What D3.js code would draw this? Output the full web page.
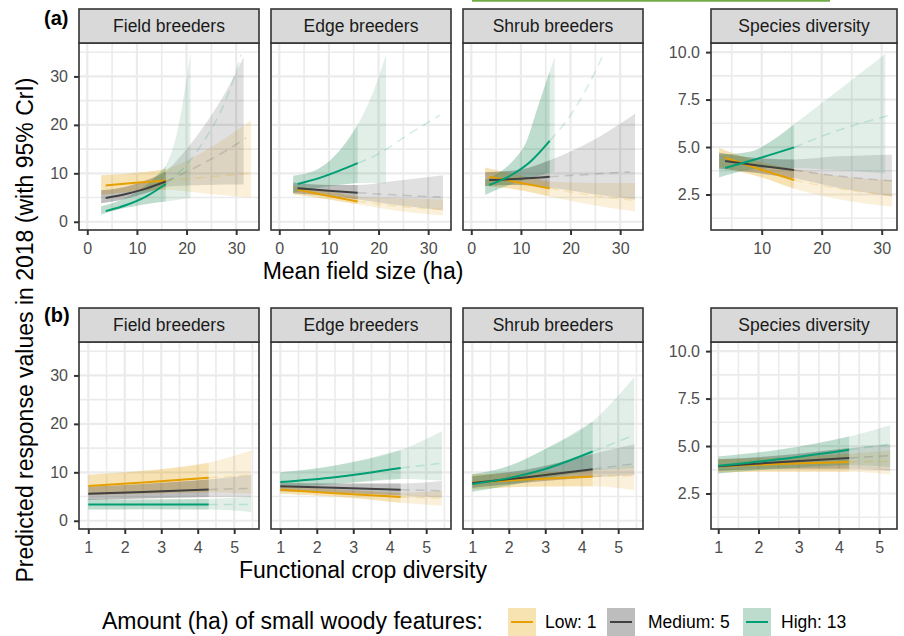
<!DOCTYPE html>
<html>
<head>
<meta charset="utf-8">
<script src="https://cdn.jsdelivr.net/npm/d3@7"></script>
<style>
  body { margin: 0; background: #fff; }
  svg text { font-family: "Liberation Sans", Arial, Helvetica, sans-serif; }
</style>
</head>
<body>
<div id="vis"></div>
<script>
// legend groups + facets
const groups = ['Low: 1', 'Medium: 5', 'High: 13'];
const facets = ['Field breeders', 'Edge breeders', 'Shrub breeders', 'Species diversity'];
const colours = ['#E69F00', '#404040', '#009E73'];
const fills = ['#E69F00', '#262626', '#288C5A'];

// ticks / domains
const ticksFieldSize = [0, 10, 20, 30];
const ticksFieldSizeSp = [10, 20, 30];
const ticksCropDiv = [1, 2, 3, 4, 5];
const ticksCount = [0, 10, 20, 30];
const ticksDiversity = [2.5, 5, 7.5, 10];
const xDomainA = [-1.67, 34.6];
const xDomainASp = [1.55, 32.55];
const xDomainB = [0.745, 5.68];
const xDomainBSp = [0.82, 5.44];
const yDomainCount = [-1.7, 36.9];
const yDomainDiv = [0.63, 10.48];

// where the observed range ends (solid -> dashed)
const obsEndA = [15.8, 15.8, 15.8, 15.4];
const obsEndB = [4.3, 4.3, 4.3, 4.25];

// (a) mean field size: [x, mean] per group (low, medium, high)
const aFieldMean = [
  [[3.7, 7.5], [8, 7.9], [12, 8.2], [15.8, 8.5], [24, 9.2], [33, 10.0]],
  [[3.7, 4.9], [8, 5.8], [12, 6.9], [15.8, 8.3], [20, 10.3], [24, 12.4], [28, 14.7], [32, 17.3]],
  [[3.7, 2.2], [8, 3.5], [12, 5.3], [15.8, 7.8], [20, 11.8], [24, 17.5], [27, 23], [29.5, 29.5], [31, 34.5]]
];
// [x, lower, upper]
const aFieldBand = [
  [[2.8, 5.6, 9.6], [8, 6.1, 9.9], [12, 6.4, 10.3], [15.8, 6.6, 10.9], [24, 5.8, 14.8], [33, 5.0, 21.0]],
  [[2.8, 3.8, 6.5], [8, 4.8, 7.3], [12, 6.0, 8.6], [15.8, 7.2, 10.4], [20, 7.5, 15], [24, 7.6, 20.5], [28, 7.7, 27], [31.5, 7.7, 34]],
  [[2.8, 1.5, 3.2], [6, 2.5, 4.2], [10, 3.3, 6.2], [14, 4.0, 9.5], [15.8, 4.2, 11.5], [18, 4.5, 18], [20.8, 4.9, 35]]
];
const aEdgeMean = [
  [[3.7, 6.6], [10, 5.3], [15.8, 4.2], [24, 3.2], [33, 2.5]],
  [[3.7, 6.9], [10, 6.4], [15.8, 6.0], [24, 5.5], [32.5, 5.1]],
  [[3.7, 7.8], [8, 9.0], [12, 10.5], [15.8, 12.1], [20, 14.0], [26, 18.0], [32.4, 22.0]]
];
const aEdgeBand = [
  [[2.8, 5.7, 7.4], [10, 4.6, 6.3], [15.8, 3.6, 5.2], [24, 2.2, 4.8], [33, 1.3, 4.6]],
  [[2.8, 5.9, 8.1], [10, 5.3, 7.6], [15.8, 4.6, 7.6], [24, 3.4, 8.5], [33, 2.4, 9.6]],
  [[2.8, 6.0, 9.5], [8, 7.0, 11.0], [12, 7.6, 14.5], [15.8, 8.0, 20.0], [19, 8.0, 27], [21.5, 7.9, 34.5]]
];
const aShrubMean = [
  [[3.6, 9.3], [10, 8.0], [15.8, 6.9], [24, 5.5], [33, 4.4]],
  [[3.6, 8.6], [10, 8.9], [15.8, 9.3], [24, 9.8], [32, 10.3]],
  [[3.6, 7.6], [8, 9.6], [12, 12.5], [15.8, 16.7], [20, 22], [24, 29], [26.8, 35]]
];
const aShrubBand = [
  [[2.8, 7.4, 11.2], [10, 6.5, 9.5], [15.8, 5.2, 8.3], [24, 3.5, 8.0], [33, 2.1, 8.0]],
  [[2.8, 7.4, 10.2], [10, 7.6, 10.8], [15.8, 7.0, 12.7], [24, 5.8, 16.5], [33, 4.6, 22.3]],
  [[2.8, 5.5, 8.6], [5.8, 6.9, 10.3], [8.5, 7.9, 12.7], [11.2, 8.8, 16.8], [13.2, 9.4, 23], [15.8, 10.1, 31], [16.8, 10.3, 34]]
];
const aSpeciesMean = [
  [[3.9, 4.44], [10, 3.8], [15.4, 3.26], [22, 2.85], [31.7, 2.45]],
  [[3.9, 4.26], [10, 4.0], [15.4, 3.79], [22, 3.5], [31.7, 3.22]],
  [[3.9, 3.9], [10, 4.45], [15.4, 4.98], [22, 5.8], [31.7, 6.7]]
];
const aSpeciesBand = [
  [[2.9, 3.95, 4.95], [10, 3.4, 4.2], [15.4, 2.8, 3.85], [22, 2.3, 3.5], [31.7, 1.85, 3.25]],
  [[2.9, 3.85, 4.7], [10, 3.6, 4.4], [15.4, 3.35, 4.35], [22, 2.9, 4.5], [31.7, 2.4, 4.6]],
  [[2.9, 3.4, 4.6], [8, 3.8, 4.75], [12, 3.9, 5.4], [15.4, 3.9, 6.2], [22, 3.8, 7.8], [30.6, 3.6, 9.9]]
];

// (b) functional crop diversity
const bFieldMean = [
  [[1, 7.2], [2.5, 7.9], [4.3, 8.9], [5.47, 9.5]],
  [[1, 5.57], [2.5, 5.95], [4.3, 6.46], [5.47, 6.7]],
  [[1, 3.37], [2.5, 3.38], [4.3, 3.37], [5.47, 3.35]]
];
const bFieldBand = [
  [[1, 5.3, 9.5], [2.5, 5.6, 10.3], [4.3, 5.9, 12.0], [5.47, 5.6, 14.5]],
  [[1, 4.3, 7.0], [2.5, 4.6, 7.6], [4.3, 4.9, 8.5], [5.47, 4.9, 9.5]],
  [[1, 2.3, 4.45], [2.5, 2.4, 4.4], [4.3, 2.3, 4.5], [5.47, 1.8, 5.0]]
];
const bEdgeMean = [
  [[1, 6.4], [2.5, 5.7], [4.3, 4.9], [5.43, 4.6]],
  [[1, 7.1], [2.5, 6.8], [4.3, 6.4], [5.43, 6.2]],
  [[1, 8.0], [2.5, 9.0], [4.3, 10.9], [5.43, 11.9]]
];
const bEdgeBand = [
  [[1, 5.6, 7.1], [2.5, 5.0, 6.5], [4.3, 3.7, 5.8], [5.43, 3.1, 6.2]],
  [[1, 6.1, 7.9], [2.5, 5.8, 7.7], [4.3, 5.2, 7.7], [5.43, 4.8, 8.2]],
  [[1, 6.8, 10.0], [2.5, 7.6, 11.4], [4.3, 8.6, 14.6], [5.43, 8.3, 18.5]]
];
const bShrubMean = [
  [[1, 7.9], [2.5, 8.5], [4.3, 9.15], [5.44, 9.3]],
  [[1, 7.8], [2.5, 9.0], [4.3, 10.65], [5.44, 11.75]],
  [[1, 7.6], [2, 8.8], [3, 10.7], [4.3, 14.3], [5.44, 17.7]]
];
const bShrubBand = [
  [[1, 6.5, 9.6], [2.5, 7.0, 9.9], [4.3, 7.1, 10.5], [5.44, 6.3, 11.3]],
  [[1, 6.8, 9.2], [2.5, 7.9, 10.6], [4.3, 9.0, 13.8], [5.44, 9.4, 15.8]],
  [[1, 6.0, 9.6], [2, 7.3, 11.3], [3, 8.8, 14.8], [4.3, 10.3, 20.5], [5.44, 11.0, 29.6]]
];
const bSpeciesMean = [
  [[1, 3.93], [2.5, 4.05], [4.25, 4.16], [5.27, 4.2]],
  [[1, 3.93], [2.5, 4.15], [4.25, 4.37], [5.27, 4.5]],
  [[1, 3.96], [2.5, 4.3], [4.25, 4.81], [5.27, 5.1]]
];
const bSpeciesBand = [
  [[1, 3.6, 4.3], [2.5, 3.65, 4.4], [4.25, 3.65, 4.6], [5.27, 3.5, 4.75]],
  [[1, 3.7, 4.3], [2.5, 3.8, 4.5], [4.25, 3.8, 4.9], [5.27, 3.7, 5.1]],
  [[1, 3.55, 4.45], [2.5, 3.8, 4.8], [4.25, 4.0, 5.5], [5.27, 3.9, 6.1]]
];

// layout
const W = 904, H = 636;
const panelLeft = [79, 271, 463, 711];
const panelWidth = [180, 180, 180, 186];
const stripH = 34, panelH = 187;

const rows = [
  {tag: '(a)', top: 9, tagY: 25, title: 'Mean field size (ha)', titleY: 279,
   mean: [aFieldMean, aEdgeMean, aShrubMean, aSpeciesMean],
   band: [aFieldBand, aEdgeBand, aShrubBand, aSpeciesBand],
   end: obsEndA,
   xDom: [xDomainA, xDomainA, xDomainA, xDomainASp],
   xTicks: [ticksFieldSize, ticksFieldSize, ticksFieldSize, ticksFieldSizeSp]},
  {tag: '(b)', top: 308, tagY: 322, title: 'Functional crop diversity', titleY: 578,
   mean: [bFieldMean, bEdgeMean, bShrubMean, bSpeciesMean],
   band: [bFieldBand, bEdgeBand, bShrubBand, bSpeciesBand],
   end: obsEndB,
   xDom: [xDomainB, xDomainB, xDomainB, xDomainBSp],
   xTicks: [ticksCropDiv, ticksCropDiv, ticksCropDiv, ticksCropDiv]}
];

const svg = d3.select('#vis')
  .append('svg')
  .attr('width', W)
  .attr('height', H);

// stray green rule at the very top of the source image
svg.append('line')
  .attr('x1', 472).attr('x2', 830)
  .attr('y1', 0.8).attr('y2', 0.8)
  .attr('stroke', '#70AD47').attr('stroke-width', 2);

function minorBreaks(ticks, dom) {
  const step = ticks[1] - ticks[0];
  const out = [];
  for (let v = ticks[0] - step / 2; v <= dom[1]; v += step) {
    if (v >= dom[0]) out.push(v);
  }
  return out;
}

function styleAxis(g) {
  g.select('.domain').remove();
  g.selectAll('.tick line').attr('stroke', '#333333').attr('stroke-width', 2);
  g.selectAll('.tick text').attr('fill', '#4D4D4D').style('font-size', '16px');
}

let clipId = 0;

rows.forEach(row => {
  const top = row.top + stripH;

  facets.forEach((facet, i) => {
    const left = panelLeft[i], w = panelWidth[i];
    const xDom = row.xDom[i];
    const yDom = i === 3 ? yDomainDiv : yDomainCount;
    const yTicks = i === 3 ? ticksDiversity : ticksCount;

    const x = d3.scaleLinear().domain(xDom).range([left, left + w]);
    const y = d3.scaleLinear().domain(yDom).range([top + panelH, top]);

    const g = svg.append('g');
    g.append('rect')
      .attr('x', left).attr('y', top)
      .attr('width', w).attr('height', panelH)
      .attr('fill', '#fff');

    // grid
    const grid = g.append('g').attr('stroke', '#EBEBEB');
    minorBreaks(row.xTicks[i], xDom).forEach(v => {
      grid.append('line').attr('x1', x(v)).attr('x2', x(v))
        .attr('y1', top).attr('y2', top + panelH).attr('stroke-width', 1.6);
    });
    minorBreaks(yTicks, yDom).forEach(v => {
      grid.append('line').attr('y1', y(v)).attr('y2', y(v))
        .attr('x1', left).attr('x2', left + w).attr('stroke-width', 1.6);
    });
    row.xTicks[i].forEach(v => {
      grid.append('line').attr('x1', x(v)).attr('x2', x(v))
        .attr('y1', top).attr('y2', top + panelH).attr('stroke-width', 2.2);
    });
    yTicks.forEach(v => {
      grid.append('line').attr('y1', y(v)).attr('y2', y(v))
        .attr('x1', left).attr('x2', left + w).attr('stroke-width', 2.2);
    });

    // clip
    const id = 'clip' + (clipId++);
    svg.append('clipPath').attr('id', id)
      .append('rect')
      .attr('x', left).attr('y', top)
      .attr('width', w).attr('height', panelH);

    const marks = g.append('g').attr('clip-path', `url(#${id})`);
    const end = row.end[i];

    const area = d3.area()
      .x(d => x(d[0])).y0(d => y(d[1])).y1(d => y(d[2]))
      .curve(d3.curveMonotoneX);
    const line = d3.line()
      .x(d => x(d[0])).y(d => y(d[1]))
      .curve(d3.curveMonotoneX);

    const bands = row.band[i], means = row.mean[i];

    // full-range ribbon (light)
    bands.forEach((b, k) => {
      marks.append('path').attr('d', area(b))
        .attr('fill', fills[k]).attr('fill-opacity', 0.14);
    });
    // observed-range ribbon (darker)
    bands.forEach((b, k) => {
      marks.append('path').attr('d', area(b.filter(d => d[0] <= end + 1e-9)))
        .attr('fill', fills[k]).attr('fill-opacity', 0.18);
    });
    // extrapolated mean (dashed, faint)
    means.forEach((m, k) => {
      marks.append('path').attr('d', line(m.filter(d => d[0] >= end - 1e-9)))
        .attr('fill', 'none').attr('stroke', colours[k])
        .attr('stroke-opacity', 0.18).attr('stroke-width', 1.5)
        .attr('stroke-dasharray', '9,6');
    });
    // observed mean (solid)
    means.forEach((m, k) => {
      marks.append('path').attr('d', line(m.filter(d => d[0] <= end + 1e-9)))
        .attr('fill', 'none').attr('stroke', colours[k])
        .attr('stroke-width', 2);
    });

    // border
    g.append('rect')
      .attr('x', left).attr('y', top)
      .attr('width', w).attr('height', panelH)
      .attr('fill', 'none').attr('stroke', '#333333').attr('stroke-width', 1.6);

    // strip
    g.append('rect')
      .attr('x', left).attr('y', row.top)
      .attr('width', w).attr('height', stripH)
      .attr('fill', '#D9D9D9').attr('stroke', '#333333').attr('stroke-width', 1.6);
    g.append('text')
      .attr('x', left + w / 2).attr('y', row.top + stripH / 2 + 6.2)
      .attr('text-anchor', 'middle')
      .attr('fill', '#1A1A1A')
      .style('font-size', '17.5px')
      .text(facet);

    // axes
    const xAxis = d3.axisBottom(x)
      .tickValues(row.xTicks[i])
      .tickSize(5).tickPadding(7.5)
      .tickFormat(d3.format('d'));
    svg.append('g')
      .attr('transform', `translate(0,${top + panelH})`)
      .call(xAxis)
      .call(styleAxis);

    if (i === 0 || i === 3) {
      const yAxis = d3.axisLeft(y)
        .tickValues(yTicks)
        .tickSize(5).tickPadding(6)
        .tickFormat(i === 3 ? d3.format('.1f') : d3.format('d'));
      svg.append('g')
        .attr('transform', `translate(${left},0)`)
        .call(yAxis)
        .call(styleAxis);
    }
  });

  // tag + axis title
  svg.append('text')
    .attr('x', 44).attr('y', row.tagY)
    .style('font-size', '20px').style('font-weight', 'bold')
    .text(row.tag);
  svg.append('text')
    .attr('x', 363).attr('y', row.titleY)
    .attr('text-anchor', 'middle')
    .style('font-size', '23px')
    .text(row.title);
});

// y axis title
svg.append('text')
  .attr('transform', 'translate(33,330) rotate(-90)')
  .attr('text-anchor', 'middle')
  .style('font-size', '23px')
  .text('Predicted response values in 2018 (with 95% CrI)');

// legend
const legendKeyX = [508, 607, 743];
const legendLabelX = [545, 648, 781];
svg.append('text')
  .attr('x', 102).attr('y', 629)
  .style('font-size', '23px')
  .text('Amount (ha) of small woody features:');

groups.forEach((grp, k) => {
  svg.append('rect')
    .attr('x', legendKeyX[k]).attr('y', 608)
    .attr('width', 28).attr('height', 28)
    .attr('fill', fills[k]).attr('fill-opacity', 0.3);
  svg.append('line')
    .attr('x1', legendKeyX[k] + 3).attr('x2', legendKeyX[k] + 25)
    .attr('y1', 622).attr('y2', 622)
    .attr('stroke', colours[k]).attr('stroke-width', 2);
  svg.append('text')
    .attr('x', legendLabelX[k]).attr('y', 628)
    .style('font-size', '17.5px')
    .text(grp);
});
</script>
</body>
</html>
